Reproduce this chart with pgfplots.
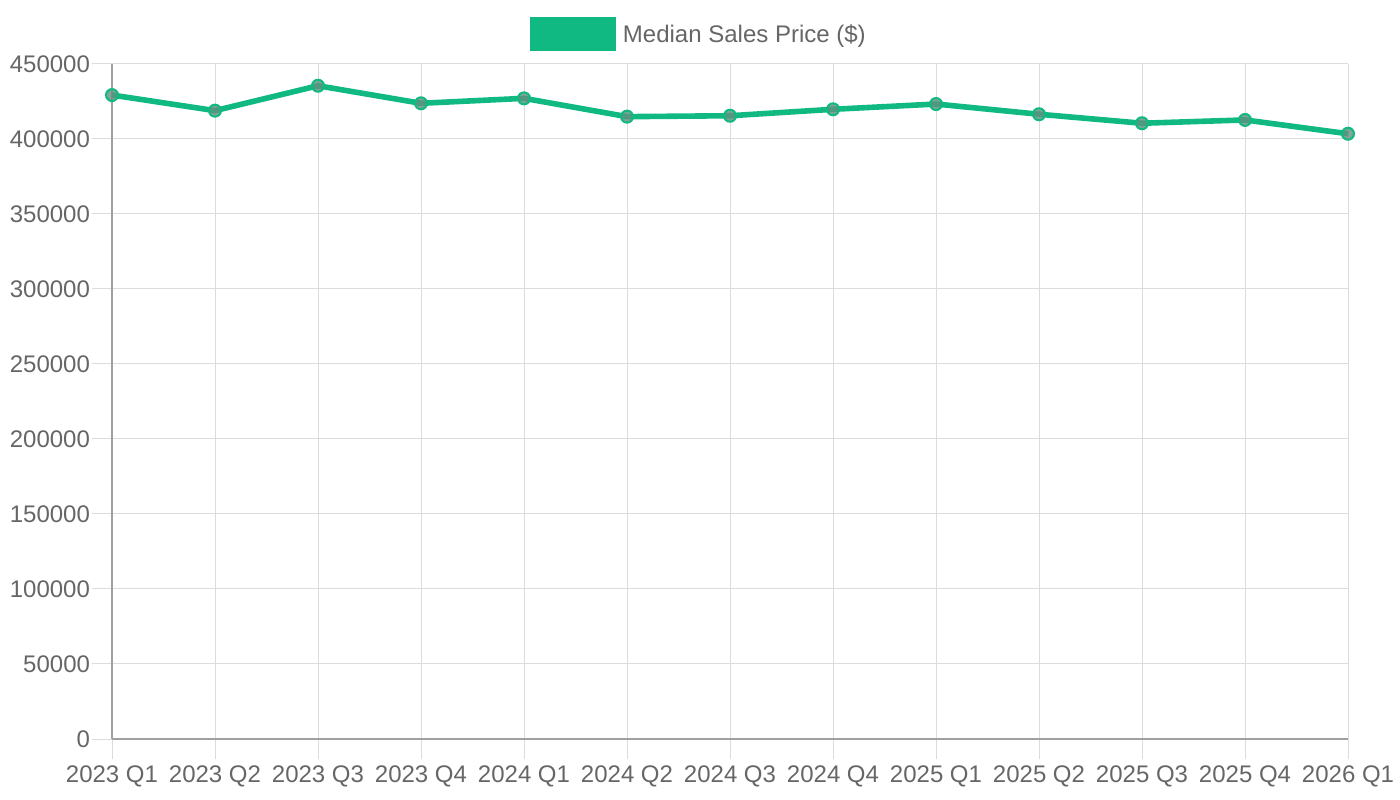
\documentclass[border=0pt]{standalone}
\usepackage{pgfplots}
\pgfplotsset{compat=1.18}
\usepackage{fontspec}
\setmainfont{Liberation Sans}
\definecolor{linegreen}{HTML}{10B981}
\definecolor{txtgray}{HTML}{666666}
\definecolor{gridgray}{HTML}{DCDCDC}
\definecolor{axgray}{HTML}{A0A0A0}
\begin{document}
\begin{tikzpicture}[x=1bp,y=1bp]
\path[use as bounding box] (-56bp,-30.5bp) rectangle (644bp,369.5bp);
\begin{axis}[
  at={(0,0)}, anchor=south west,
  scale only axis, width=618bp, height=337.5bp,
  xmin=0, xmax=12, ymin=0, ymax=450000,
  xtick={0,...,12},
  xticklabels={2023 Q1,2023 Q2,2023 Q3,2023 Q4,2024 Q1,2024 Q2,2024 Q3,2024 Q4,2025 Q1,2025 Q2,2025 Q3,2025 Q4,2026 Q1},
  ytick={0,50000,...,450000},
  scaled y ticks=false,
  yticklabel style={font=\fontsize{12bp}{14bp}\selectfont, text=txtgray, xshift=2.5bp,
    /pgf/number format/fixed, /pgf/number format/1000 sep={}, /pgf/number format/assume math mode=true},
  xticklabel style={font=\fontsize{12bp}{14bp}\selectfont, text=txtgray},
  axis x line*=bottom, axis y line*=left,
  axis line style={axgray, line width=0.6bp},
  grid=major, major grid style={gridgray, line width=0.5bp},
  tick align=outside, major tick length=10bp,
  major tick style={gridgray, line width=0.5bp},
  legend style={at={(0.4757,1.0700)}, anchor=north, draw=none, fill=none,
    font=\fontsize{12bp}{14bp}\selectfont, text=txtgray, inner sep=0pt},
  legend image code/.code={\fill[linegreen] (-4bp,-6.5bp) rectangle (36bp,7.5bp);
    \path[draw=none, fill=none] (36bp,0) -- (39bp,0);},
  clip=false,
]
\addplot[linegreen, line width=2.8bp, mark=*, mark size=3bp,
  mark options={draw=linegreen, line width=1bp, fill=gray!70!linegreen, fill opacity=0.8}]
  coordinates {(0,429300) (1,418900) (2,435500) (3,423800) (4,427100) (5,414900) (6,415500) (7,419800) (8,423300) (9,416500) (10,410500) (11,412700) (12,403500)};
\addlegendentry{Median Sales Price (\$)}
\end{axis}
\end{tikzpicture}
\end{document}
